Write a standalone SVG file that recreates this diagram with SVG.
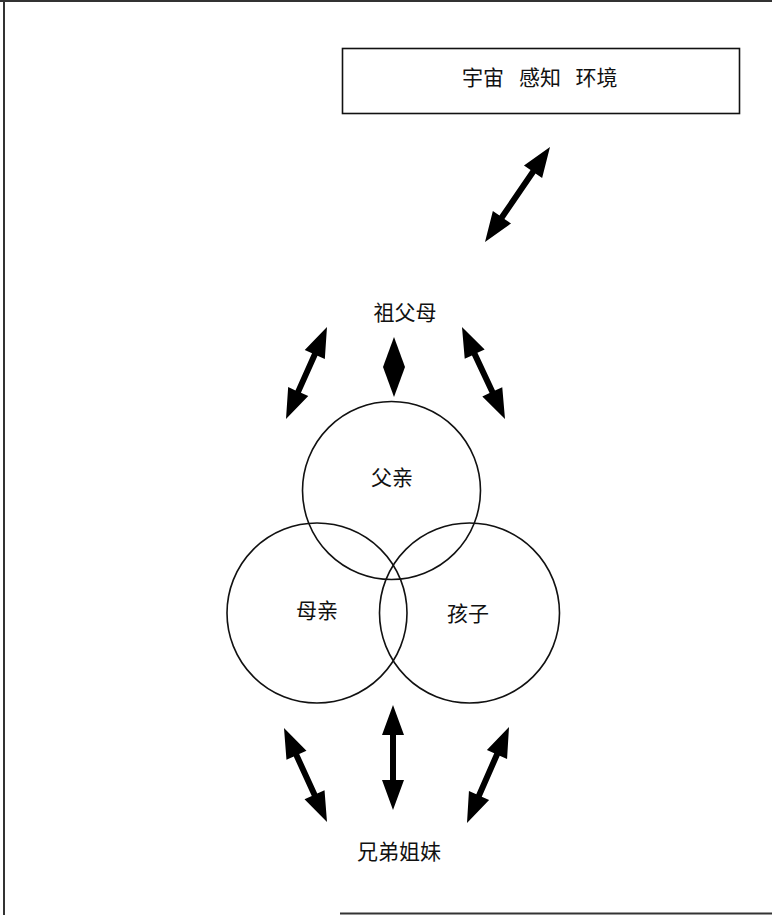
<svg xmlns="http://www.w3.org/2000/svg" width="772" height="915" viewBox="0 0 772 915">
  <style>
    .lbl { font-family: "Liberation Sans", "Noto Sans CJK SC", sans-serif; font-size: 21px; fill: #111; text-anchor: middle; dominant-baseline: central; }
    .ring { fill: none; stroke: #111; stroke-width: 1.6; }
    .frame { stroke: #333; stroke-width: 2; fill: none; }
    .arrow { fill: #000; }
  </style>

  <!-- page frame -->
  <g id="frame">
    <line class="frame" x1="0" y1="1" x2="772" y2="1"/>
    <line class="frame" x1="4" y1="0" x2="4" y2="915"/>
    <line class="frame" x1="340" y1="913.5" x2="772" y2="913.5"/>
  </g>

  <!-- environment box -->
  <g id="environment">
    <rect x="342.5" y="48.5" width="397" height="65" fill="#fff" stroke="#111" stroke-width="1.6"/>
    <text class="lbl" y="77"><tspan x="483">宇宙</tspan><tspan x="540">感知</tspan><tspan x="596.5">环境</tspan></text>
  </g>

  <g id="grandparents">
    <text class="lbl" x="405" y="312">祖父母</text>
  </g>

  <g id="father">
    <circle class="ring" cx="391.5" cy="490.5" r="89"/>
    <text class="lbl" x="392" y="477">父亲</text>
  </g>

  <g id="mother">
    <circle class="ring" cx="317" cy="613" r="90"/>
    <text class="lbl" x="317" y="610">母亲</text>
  </g>

  <g id="child">
    <circle class="ring" cx="469.5" cy="613" r="90"/>
    <text class="lbl" x="468" y="613">孩子</text>
  </g>

  <g id="siblings">
    <text class="lbl" x="399" y="851">兄弟姐妹</text>
  </g>

  <!-- double-headed arrows: drawn along +x from the start point, then rotated -->
  <g id="connectors" class="arrow">
    <path transform="translate(485,242) rotate(-55.62)" d="M0,0 L30,-11 L30,-3 L85.1,-3 L85.1,-11 L115.1,0 L85.1,11 L85.1,3 L30,3 L30,11 Z"/>
    <path transform="translate(286,419) rotate(-65.98)" d="M0,0 L30,-11 L30,-3 L70.7,-3 L70.7,-11 L100.7,0 L70.7,11 L70.7,3 L30,3 L30,11 Z"/>
    <path transform="translate(394,397) rotate(-90)" d="M0,0 L30,-11 L60,0 L30,11 Z"/>
    <path transform="translate(505,419) rotate(-115.05)" d="M0,0 L30,-11 L30,-3 L71.6,-3 L71.6,-11 L101.6,0 L71.6,11 L71.6,3 L30,3 L30,11 Z"/>
    <path transform="translate(327,822) rotate(-114.58)" d="M0,0 L30,-11 L30,-3 L73.4,-3 L73.4,-11 L103.4,0 L73.4,11 L73.4,3 L30,3 L30,11 Z"/>
    <path transform="translate(393,810) rotate(-90)" d="M0,0 L30,-11 L30,-3 L75,-3 L75,-11 L105,0 L75,11 L75,3 L30,3 L30,11 Z"/>
    <path transform="translate(467,823) rotate(-66.37)" d="M0,0 L30,-11 L30,-3 L74.8,-3 L74.8,-11 L104.8,0 L74.8,11 L74.8,3 L30,3 L30,11 Z"/>
  </g>
</svg>
